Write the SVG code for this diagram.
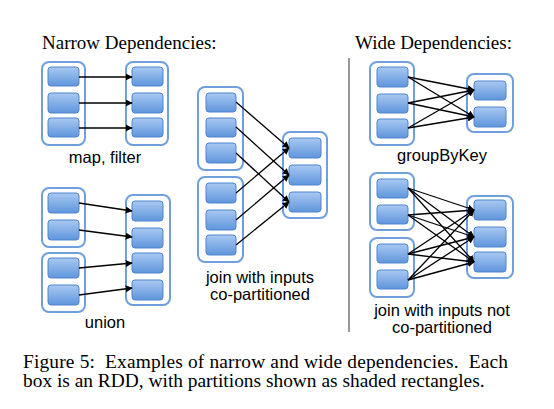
<svg xmlns="http://www.w3.org/2000/svg" width="554" height="409" viewBox="0 0 554 409">
<style>
.rdd{fill:#fff;stroke:#6f9fdc;stroke-width:2}
.p{fill:url(#g);stroke:#4f85cf;stroke-width:1}
.serif{font-family:"Liberation Serif","Times New Roman",serif;fill:#000;white-space:pre}
.sans{font-family:"Liberation Sans",Arial,sans-serif;font-size:16.5px;fill:#000;text-anchor:middle}
.c line{stroke:#000;stroke-width:1.3;marker-end:url(#ah)}
</style>
<defs>
<linearGradient id="g" x1="0" y1="0" x2="0" y2="1">
<stop offset="0" stop-color="#a9c9f2"/>
<stop offset="1" stop-color="#5f95dc"/>
</linearGradient>
<marker id="ah" viewBox="0 0 10 10" refX="9" refY="5" markerWidth="7" markerHeight="7" markerUnits="userSpaceOnUse" orient="auto">
<path d="M0,0 L10,5 L0,10 z" fill="#000"/>
</marker>
</defs>
<rect width="554" height="409" fill="#fff"/>

<text class="serif" x="42" y="49" font-size="19">Narrow Dependencies:</text>
<text class="serif" x="355" y="49" font-size="19">Wide Dependencies:</text>
<line x1="349" y1="58" x2="349" y2="332" stroke="#999" stroke-width="2"/>

<!-- map, filter -->
<g id="map-src">
<rect class="rdd" x="42" y="62" width="43" height="83" rx="7"/>
<rect class="p" x="48" y="67" width="31" height="19" rx="3"/>
<rect class="p" x="48" y="93" width="31" height="20" rx="3"/>
<rect class="p" x="48" y="118" width="31" height="19" rx="3"/>
</g>
<g id="map-dst">
<rect class="rdd" x="126" y="62" width="42" height="83" rx="7"/>
<rect class="p" x="132" y="67" width="31" height="19" rx="3"/>
<rect class="p" x="132" y="93" width="31" height="20" rx="3"/>
<rect class="p" x="132" y="118" width="31" height="19" rx="3"/>
</g>
<text class="sans" x="105" y="163">map, filter</text>

<!-- union -->
<g id="union-src1">
<rect class="rdd" x="42" y="188" width="43" height="59" rx="7"/>
<rect class="p" x="48" y="193" width="31" height="20" rx="3"/>
<rect class="p" x="48" y="220" width="31" height="20" rx="3"/>
</g>
<g id="union-src2">
<rect class="rdd" x="42" y="253" width="43" height="59" rx="7"/>
<rect class="p" x="48" y="258" width="31" height="20" rx="3"/>
<rect class="p" x="48" y="285" width="31" height="20" rx="3"/>
</g>
<g id="union-dst">
<rect class="rdd" x="126" y="195" width="44" height="110" rx="7"/>
<rect class="p" x="132" y="201" width="31" height="20" rx="3"/>
<rect class="p" x="132" y="228" width="31" height="20" rx="3"/>
<rect class="p" x="132" y="253" width="31" height="20" rx="3"/>
<rect class="p" x="132" y="280" width="31" height="20" rx="3"/>
</g>
<text class="sans" x="105" y="328">union</text>

<!-- join co-partitioned -->
<g id="join-src1">
<rect class="rdd" x="198" y="87" width="45" height="83" rx="7"/>
<rect class="p" x="206" y="93" width="30" height="19" rx="3"/>
<rect class="p" x="206" y="118" width="30" height="19" rx="3"/>
<rect class="p" x="206" y="143" width="30" height="20" rx="3"/>
</g>
<g id="join-src2">
<rect class="rdd" x="198" y="177" width="45" height="85" rx="7"/>
<rect class="p" x="206" y="183" width="30" height="20" rx="3"/>
<rect class="p" x="206" y="210" width="30" height="20" rx="3"/>
<rect class="p" x="206" y="235" width="30" height="20" rx="3"/>
</g>
<g id="join-dst">
<rect class="rdd" x="283" y="132" width="44" height="86" rx="7"/>
<rect class="p" x="289" y="138" width="32" height="20" rx="3"/>
<rect class="p" x="289" y="165" width="32" height="20" rx="3"/>
<rect class="p" x="289" y="192" width="32" height="20" rx="3"/>
</g>
<text class="sans" x="260" y="283">join with inputs</text>
<text class="sans" x="260" y="300">co-partitioned</text>

<!-- groupByKey -->
<g id="gbk-src">
<rect class="rdd" x="370" y="62" width="44" height="83" rx="7"/>
<rect class="p" x="377" y="67" width="31" height="20" rx="3"/>
<rect class="p" x="377" y="94" width="31" height="19" rx="3"/>
<rect class="p" x="377" y="119" width="31" height="19" rx="3"/>
</g>
<g id="gbk-dst">
<rect class="rdd" x="467" y="74" width="46" height="58" rx="7"/>
<rect class="p" x="474" y="81" width="32" height="19" rx="3"/>
<rect class="p" x="474" y="107" width="32" height="20" rx="3"/>
</g>
<text class="sans" x="442" y="161">groupByKey</text>

<!-- join not co-partitioned -->
<g id="wjoin-src1">
<rect class="rdd" x="370" y="173" width="44" height="57" rx="7"/>
<rect class="p" x="377" y="179" width="31" height="19" rx="3"/>
<rect class="p" x="377" y="205" width="31" height="19" rx="3"/>
</g>
<g id="wjoin-src2">
<rect class="rdd" x="370" y="238" width="44" height="59" rx="7"/>
<rect class="p" x="377" y="244" width="31" height="19" rx="3"/>
<rect class="p" x="377" y="270" width="31" height="19" rx="3"/>
</g>
<g id="wjoin-dst">
<rect class="rdd" x="467" y="196" width="46" height="82" rx="7"/>
<rect class="p" x="474" y="200" width="32" height="20" rx="3"/>
<rect class="p" x="474" y="227" width="32" height="20" rx="3"/>
<rect class="p" x="474" y="252" width="32" height="20" rx="3"/>
</g>
<text class="sans" x="442" y="316">join with inputs not</text>
<text class="sans" x="442" y="333">co-partitioned</text>

<g id="connectors" class="c">
<line x1="79" y1="77" x2="132" y2="77"/>
<line x1="79" y1="103" x2="132" y2="103"/>
<line x1="79" y1="128" x2="132" y2="128"/>

<line x1="79" y1="203" x2="132" y2="211"/>
<line x1="79" y1="230" x2="132" y2="237"/>
<line x1="79" y1="268" x2="132" y2="263"/>
<line x1="79" y1="295" x2="132" y2="288"/>

<line x1="236" y1="102" x2="289" y2="148"/>
<line x1="236" y1="127" x2="289" y2="175"/>
<line x1="236" y1="153" x2="289" y2="202"/>
<line x1="236" y1="193" x2="289" y2="148"/>
<line x1="236" y1="220" x2="289" y2="175"/>
<line x1="236" y1="245" x2="289" y2="202"/>

<line x1="408" y1="77" x2="474" y2="90"/>
<line x1="408" y1="77" x2="474" y2="117"/>
<line x1="408" y1="103" x2="474" y2="90"/>
<line x1="408" y1="103" x2="474" y2="117"/>
<line x1="408" y1="128" x2="474" y2="90"/>
<line x1="408" y1="128" x2="474" y2="117"/>

<line x1="408" y1="188" x2="474" y2="210"/>
<line x1="408" y1="188" x2="474" y2="237"/>
<line x1="408" y1="188" x2="474" y2="262"/>
<line x1="408" y1="215" x2="474" y2="210"/>
<line x1="408" y1="215" x2="474" y2="237"/>
<line x1="408" y1="215" x2="474" y2="262"/>
<line x1="408" y1="254" x2="474" y2="210"/>
<line x1="408" y1="254" x2="474" y2="237"/>
<line x1="408" y1="254" x2="474" y2="262"/>
<line x1="408" y1="280" x2="474" y2="210"/>
<line x1="408" y1="280" x2="474" y2="237"/>
<line x1="408" y1="280" x2="474" y2="262"/>
</g>

<text class="serif" x="23" y="368" font-size="19.4" textLength="485" lengthAdjust="spacing">Figure 5:  Examples of narrow and wide dependencies.  Each</text>
<text class="serif" x="23" y="387" font-size="19.4">box is an RDD, with partitions shown as shaded rectangles.</text>
</svg>
